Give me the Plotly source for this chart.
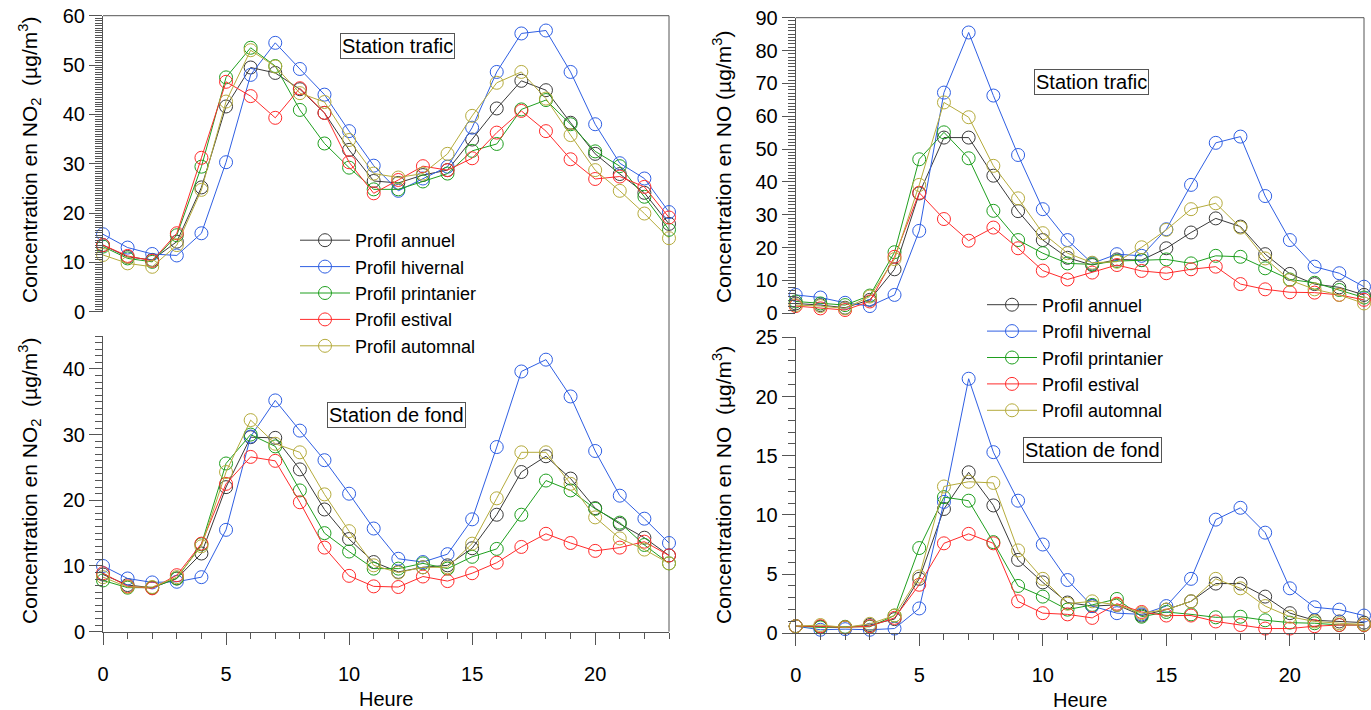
import plotly.graph_objects as go

# Heures de la journée
heures = [0, 1, 2, 3, 4, 5, 6, 7, 8, 9, 10, 11, 12, 13, 14, 15, 16, 17, 18, 19, 20, 21, 22, 23]

profils = ["Profil annuel", "Profil hivernal", "Profil printanier", "Profil estival", "Profil automnal"]

# NO2 - station trafic (µg/m3)
no2_trafic_annuel = [13.5, 11.1, 10.5, 14.2, 25.2, 41.6, 49.5, 48.4, 45.1, 40.3, 32.8, 26.5, 26.1, 27.7, 28.7, 34.9, 41.2, 46.8, 44.9, 38.3, 32.0, 27.9, 24.1, 17.8]
no2_trafic_hivernal = [15.7, 13.0, 11.7, 11.4, 15.9, 30.3, 48.0, 54.5, 49.2, 44.0, 36.6, 29.6, 24.5, 27.0, 29.4, 37.3, 48.6, 56.4, 57.0, 48.6, 38.0, 30.1, 27.0, 20.2]
no2_trafic_printanier = [13.2, 10.8, 10.1, 15.5, 29.4, 47.5, 53.5, 49.8, 40.9, 34.1, 29.2, 24.8, 24.8, 26.4, 28.0, 32.6, 34.0, 41.0, 42.9, 38.0, 32.5, 29.5, 23.3, 16.6]
no2_trafic_estival = [13.5, 11.3, 10.3, 15.9, 31.2, 46.6, 43.7, 39.3, 45.3, 40.3, 30.3, 24.0, 26.7, 29.5, 28.7, 31.1, 36.3, 40.7, 36.6, 30.9, 26.9, 27.4, 25.3, 19.1]
no2_trafic_automnal = [11.5, 9.8, 9.1, 13.5, 24.7, 42.6, 53.0, 49.7, 44.3, 42.5, 34.8, 28.0, 27.2, 28.0, 32.0, 39.7, 46.4, 48.6, 43.2, 35.8, 28.7, 24.5, 19.9, 14.9]

# NO2 - station de fond (µg/m3)
no2_fond_annuel = [8.7, 7.1, 6.7, 8.1, 11.9, 22.0, 29.6, 29.5, 24.7, 18.6, 14.1, 10.6, 9.1, 9.8, 10.1, 12.7, 17.8, 24.3, 26.7, 23.3, 18.8, 16.4, 14.3, 11.6]
no2_fond_hivernal = [10.0, 8.1, 7.5, 7.6, 8.3, 15.5, 29.7, 35.2, 30.6, 26.1, 21.0, 15.7, 11.1, 10.6, 11.8, 17.1, 28.1, 39.6, 41.4, 35.8, 27.5, 20.7, 17.2, 13.5]
no2_fond_printanier = [7.8, 6.7, 6.7, 8.1, 13.3, 25.6, 30.0, 28.2, 21.5, 15.0, 12.2, 9.6, 9.6, 10.4, 9.6, 11.4, 12.6, 17.8, 23.0, 21.5, 18.7, 16.6, 13.2, 10.4]
no2_fond_estival = [8.9, 6.9, 6.6, 8.6, 13.4, 22.5, 26.6, 26.0, 19.7, 12.8, 8.5, 6.9, 6.8, 8.4, 7.7, 8.9, 10.5, 12.9, 14.9, 13.5, 12.3, 12.8, 13.7, 11.6]
no2_fond_automnal = [8.3, 6.8, 6.8, 8.3, 13.0, 24.3, 32.2, 28.6, 27.3, 20.9, 15.3, 10.1, 9.0, 9.8, 9.8, 13.4, 20.3, 27.3, 27.3, 22.5, 17.4, 14.2, 12.5, 10.4]

# NO - station trafic (µg/m3)
no_trafic_annuel = [3.0, 2.5, 1.7, 4.1, 13.4, 36.5, 53.5, 53.5, 41.9, 31.1, 22.3, 16.9, 14.7, 16.4, 16.2, 19.8, 24.6, 28.9, 26.4, 18.0, 12.0, 8.9, 7.9, 5.6]
no_trafic_hivernal = [5.6, 4.8, 3.2, 2.2, 5.6, 25.1, 67.2, 85.5, 66.3, 48.2, 31.7, 22.3, 15.2, 18.0, 17.5, 25.6, 39.1, 51.9, 53.8, 35.7, 22.3, 14.2, 12.2, 8.1]
no_trafic_printanier = [3.6, 3.0, 2.5, 5.4, 18.6, 46.9, 55.1, 47.2, 31.2, 22.3, 18.3, 15.2, 14.9, 15.9, 16.2, 16.4, 15.2, 17.5, 17.2, 13.7, 10.3, 9.3, 7.1, 4.8]
no_trafic_estival = [2.2, 1.5, 1.0, 3.6, 17.2, 36.7, 28.7, 22.1, 26.1, 19.8, 13.0, 10.3, 12.4, 14.7, 12.9, 12.2, 13.4, 14.2, 8.9, 7.3, 6.4, 6.3, 5.6, 4.1]
no_trafic_automnal = [2.5, 2.2, 1.5, 5.1, 16.5, 39.1, 64.2, 59.7, 44.9, 35.0, 24.4, 18.3, 15.4, 15.7, 20.1, 25.4, 31.7, 33.5, 26.1, 16.7, 10.1, 7.3, 5.6, 3.0]

# NO - station de fond (µg/m3)
no_fond_annuel = [0.6, 0.55, 0.5, 0.7, 1.2, 4.6, 10.5, 13.6, 10.8, 6.2, 4.3, 2.6, 2.3, 2.4, 1.5, 2.0, 2.7, 4.2, 4.2, 3.1, 1.7, 1.1, 1.0, 0.9]
no_fond_hivernal = [0.6, 0.3, 0.35, 0.3, 0.4, 2.1, 11.1, 21.5, 15.3, 11.2, 7.5, 4.5, 2.3, 1.7, 1.6, 2.3, 4.6, 9.6, 10.6, 8.5, 3.8, 2.2, 2.0, 1.5]
no_fond_printanier = [0.6, 0.5, 0.55, 0.55, 1.5, 7.2, 11.5, 11.2, 7.7, 4.0, 3.1, 2.0, 2.4, 2.9, 1.4, 1.8, 1.6, 1.35, 1.4, 1.1, 0.9, 0.85, 0.7, 0.7]
no_fond_estival = [0.6, 0.6, 0.5, 0.6, 1.3, 4.1, 7.6, 8.4, 7.6, 2.7, 1.7, 1.6, 1.3, 2.5, 1.8, 1.5, 1.5, 1.0, 0.7, 0.4, 0.4, 0.6, 0.7, 0.7]
no_fond_automnal = [0.6, 0.7, 0.5, 0.8, 1.5, 4.8, 12.4, 12.8, 12.7, 7.0, 4.6, 2.5, 2.7, 2.4, 1.7, 2.0, 2.7, 4.6, 3.8, 2.3, 1.4, 1.0, 0.85, 0.75]

couleurs = ["#3a3a3a", "#2f5fe3", "#1f9f1f", "#ff2b2b", "#b5ab3c"]

FONT = "Liberation Sans, Arial, sans-serif"
W, H = 1371, 710
AXC = "#555555"


def px_x(p):
    return p / W


def px_y(p):
    return (H - p) / H


# Domaines des quatre panneaux (pixels -> fraction de la figure)
dom_x_gauche = [px_x(103), px_x(669)]
dom_x_droite = [px_x(795.7), px_x(1364)]
dom_y_haut_g = [px_y(311.7), px_y(15.7)]
dom_y_bas_g = [px_y(631.7), px_y(336)]
dom_y_haut_d = [px_y(313.3), px_y(17.7)]
dom_y_bas_d = [px_y(633.3), px_y(337.3)]

panneaux = [
    # (séries, axe x, axe y, légende)
    ([no2_trafic_annuel, no2_trafic_hivernal, no2_trafic_printanier, no2_trafic_estival, no2_trafic_automnal], "x2", "y2", "legend"),
    ([no2_fond_annuel, no2_fond_hivernal, no2_fond_printanier, no2_fond_estival, no2_fond_automnal], "x", "y", None),
    ([no_trafic_annuel, no_trafic_hivernal, no_trafic_printanier, no_trafic_estival, no_trafic_automnal], "x4", "y4", "legend2"),
    ([no_fond_annuel, no_fond_hivernal, no_fond_printanier, no_fond_estival, no_fond_automnal], "x3", "y3", None),
]

fig = go.Figure()
for series, xa, ya, leg in panneaux:
    for nom, valeurs, coul in zip(profils, series, couleurs):
        fig.add_trace(go.Scatter(
            x=heures, y=valeurs, xaxis=xa, yaxis=ya,
            mode="lines+markers", name=nom,
            line=dict(color=coul, width=1),
            marker=dict(symbol="circle-open", size=13, color=coul, line=dict(width=1, color=coul)),
            cliponaxis=False,
            showlegend=leg is not None,
            legend=leg if leg else "legend",
        ))


def axe_x(domaine, ancre, visible=True):
    return dict(
        domain=domaine, anchor=ancre, range=[0, 23], visible=visible, automargin=False,
        showline=True, linecolor=AXC, linewidth=1, mirror=False,
        ticks="outside", ticklen=12, tickwidth=1, tickcolor=AXC, dtick=5, tick0=0,
        minor=dict(dtick=1, ticklen=6, tickwidth=1, tickcolor=AXC, ticks="outside"),
        showgrid=False, zeroline=False, ticklabelstandoff=12,
        tickfont=dict(family=FONT, size=20, color="black"),
    )


def axe_y(domaine, ancre, plage, pas, pas_mineur):
    return dict(
        domain=domaine, anchor=ancre, range=plage, automargin=False,
        showline=True, linecolor=AXC, linewidth=1,
        ticks="outside", ticklen=13, tickwidth=1, tickcolor=AXC, dtick=pas, tick0=0,
        minor=dict(dtick=pas_mineur, ticklen=7, tickwidth=1, tickcolor=AXC, ticks="outside"),
        showgrid=False, zeroline=False,
        tickfont=dict(family=FONT, size=20, color="black"),
    )


fig.update_layout(
    width=W, height=H,
    margin=dict(l=0, r=0, t=0, b=0, pad=0, autoexpand=False),
    paper_bgcolor="white", plot_bgcolor="white",
    font=dict(family=FONT, size=20, color="black"),
    xaxis=axe_x(dom_x_gauche, "y"),
    yaxis=axe_y(dom_y_bas_g, "x", [0, 45], 10, 1),
    xaxis2=axe_x(dom_x_gauche, "y2", visible=False),
    yaxis2=axe_y(dom_y_haut_g, "x2", [0, 60], 10, 0.5),
    xaxis3=axe_x(dom_x_droite, "y3"),
    yaxis3=axe_y(dom_y_bas_d, "x3", [0, 25], 5, 1),
    xaxis4=axe_x(dom_x_droite, "y4", visible=False),
    yaxis4=axe_y(dom_y_haut_d, "x4", [0, 90], 10, 1),
    legend=dict(
        x=px_x(295), y=px_y(222), xanchor="left", yanchor="top",
        font=dict(family=FONT, size=18, color="black"),
        bgcolor="rgba(0,0,0,0)", itemwidth=50, tracegroupgap=0,
    ),
    legend2=dict(
        x=px_x(982), y=px_y(286.5), xanchor="left", yanchor="top",
        font=dict(family=FONT, size=18, color="black"),
        bgcolor="rgba(0,0,0,0)", itemwidth=50, tracegroupgap=0,
    ),
    showlegend=True,
)

# Cadre : bord supérieur et bord droit de chaque colonne
cadre = dict(color=AXC, width=1)
for (xd, yh, yb) in [(dom_x_gauche, dom_y_haut_g, dom_y_bas_g), (dom_x_droite, dom_y_haut_d, dom_y_bas_d)]:
    fig.add_shape(type="line", xref="paper", yref="paper",
                  x0=xd[0], x1=xd[1], y0=yh[1], y1=yh[1], line=cadre, layer="below")
    fig.add_shape(type="line", xref="paper", yref="paper",
                  x0=xd[1], x1=xd[1], y0=yb[0], y1=yh[1], line=cadre, layer="below")

# Étiquettes des stations
for texte, cx, cy in [
    ("Station trafic", 397.5, 46),
    ("Station de fond", 397, 414.5),
    ("Station trafic", 1091.7, 82.5),
    ("Station de fond", 1092, 450),
]:
    fig.add_annotation(
        text=texte, xref="paper", yref="paper", x=px_x(cx), y=px_y(cy),
        xanchor="center", yanchor="middle", showarrow=False,
        font=dict(family=FONT, size=20, color="black"),
        bgcolor="white", bordercolor=AXC, borderwidth=1, borderpad=1,
    )

# Titres des axes
titres_y = [
    ("Concentration en NO<sub>2</sub>  (µg/m<sup>3</sup>)", 29, 160),
    ("Concentration en NO<sub>2</sub>  (µg/m<sup>3</sup>)", 29, 481),
    ("Concentration en NO (µg/m<sup>3</sup>)", 722, 167),
    ("Concentration en NO  (µg/m<sup>3</sup>)", 722, 485),
]
for texte, cx, cy in titres_y:
    fig.add_annotation(
        text=texte, xref="paper", yref="paper", x=px_x(cx), y=px_y(cy),
        xanchor="center", yanchor="middle", textangle=-90, showarrow=False,
        font=dict(family=FONT, size=21, color="black"),
    )

for cx, cy in [(386, 699), (1080, 700)]:
    fig.add_annotation(
        text="Heure", xref="paper", yref="paper", x=px_x(cx), y=px_y(cy),
        xanchor="center", yanchor="middle", showarrow=False,
        font=dict(family=FONT, size=20, color="black"),
    )

fig.write_html("out.html")
